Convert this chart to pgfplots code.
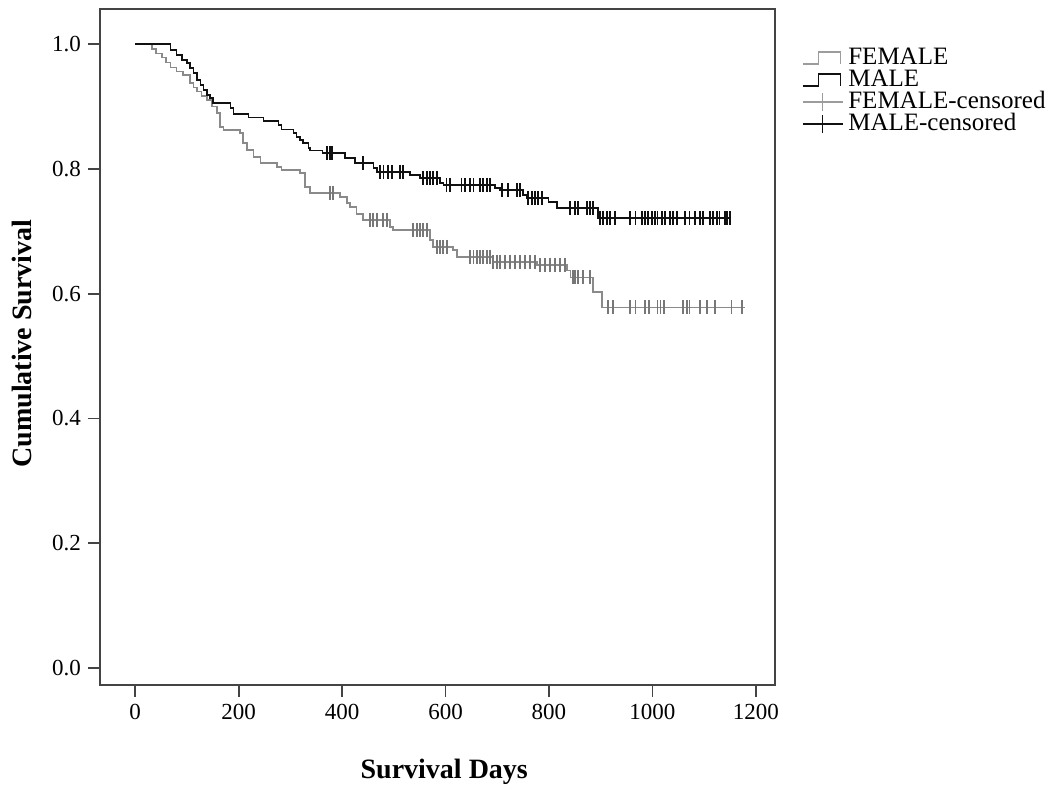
\documentclass[border=0pt]{standalone}
\usepackage{fontspec}
\setmainfont{Liberation Serif}
\usepackage{pgfplots}
\pgfplotsset{compat=1.18}
\definecolor{fem}{HTML}{8A8A8A}
\definecolor{femc}{HTML}{777777}
\definecolor{mal}{HTML}{111111}
\definecolor{frame}{HTML}{444444}
\begin{document}
\begin{tikzpicture}
\begin{axis}[
  at={(0,0)}, anchor=south west,
  scale only axis, width=337.5pt, height=338pt,
  xmin=-68, xmax=1237, ymin=-0.027, ymax=1.056,
  xtick={0,200,...,1200}, ytick={0,0.2,...,1.0},
  tick pos=left, tick align=outside,
  major tick length=6pt,
  every tick/.style={draw=frame, line width=0.9pt},
  axis line style={draw=frame, line width=0.9pt},
  /pgf/number format/assume math mode=true,
  xticklabel style={font=\fontsize{11.5}{12}\selectfont, /pgf/number format/1000 sep={}},
  yticklabel style={font=\fontsize{11.5}{12}\selectfont, /pgf/number format/.cd, fixed, fixed zerofill, precision=1},
  xlabel={Survival Days}, ylabel={Cumulative Survival},
  xlabel style={font=\bfseries\fontsize{14}{14}\selectfont, at={(axis description cs:0.51,-0.1287)}, anchor=center},
  ylabel style={font=\bfseries\fontsize{14}{14}\selectfont, at={(axis description cs:-0.1156,0.505)}, anchor=center},
  legend style={at={(axis description cs:1.039,0.944)}, anchor=north west, draw=none, fill=none,
    font=\fontsize{12.5}{12.5}\selectfont, inner sep=0pt, row sep=0pt, column sep=1.5pt,
    nodes={inner sep=1pt, text height=7.5pt, text depth=1.5pt}},
  legend cell align=left,
  clip=false,
]
% FEMALE
\addplot[const plot, draw=fem, line width=0.8pt,
  legend image code/.code={\draw[draw=fem!85, line width=0.8pt] (0pt,-3pt) -- (8pt,-3pt) -- (8pt,3pt) -- (19pt,3pt) -- (19pt,-3pt);}]
coordinates {
(0,1.000) (32,0.992) (40,0.985) (52,0.978) (60,0.970) (68,0.962) (80,0.956) (92,0.950)
(106,0.937) (113,0.930) (119,0.924) (128,0.917) (139,0.910) (148,0.900) (158,0.889)
(164,0.867) (171,0.862) (203,0.857) (209,0.841) (216,0.830) (229,0.819) (242,0.809)
(274,0.803) (283,0.798) (319,0.793) (328,0.771) (338,0.761) (396,0.755) (409,0.745)
(415,0.739) (428,0.728) (441,0.718) (493,0.707) (499,0.702) (570,0.686) (576,0.675)
(615,0.670) (622,0.659) (692,0.651) (777,0.646) (835,0.637) (842,0.626) (885,0.603)
(902,0.578) (1179,0.578)
};
\addlegendentry{FEMALE}
% MALE
\addplot[const plot, draw=mal, line width=0.8pt,
  legend image code/.code={\draw[draw=mal, line width=0.8pt] (0pt,-3pt) -- (8pt,-3pt) -- (8pt,3pt) -- (19pt,3pt) -- (19pt,-3pt);}]
coordinates {
(0,1.000) (68,0.990) (80,0.982) (90,0.974) (100,0.969) (106,0.961) (113,0.953) (119,0.942)
(126,0.934) (132,0.926) (139,0.918) (145,0.913) (151,0.905) (184,0.897) (190,0.888)
(219,0.882) (248,0.877) (277,0.870) (283,0.863) (306,0.857) (312,0.851) (319,0.846)
(325,0.841) (335,0.833) (338,0.829) (362,0.825) (406,0.817) (425,0.809) (461,0.801)
(467,0.795) (531,0.790) (551,0.785) (589,0.777) (596,0.774) (696,0.769) (705,0.766)
(750,0.758) (757,0.753) (799,0.747) (815,0.737) (895,0.721) (1150,0.721)
};
\addlegendentry{MALE}
% FEMALE censored
\addplot[only marks, mark=|, mark size=3.5pt, draw=femc, mark options={line width=0.8pt},
  legend image code/.code={\draw[draw=fem!85, line width=0.8pt] (0pt,0pt) -- (20pt,0pt); \draw[draw=fem!85, line width=0.8pt] (10pt,-4.5pt) -- (10pt,4.5pt);}]
coordinates {
(377,0.761) (383,0.761)
(454,0.718) (460,0.718) (467,0.718) (479,0.718) (487,0.718)
(537,0.702) (545,0.702) (551,0.702) (557,0.702) (564,0.702)
(583,0.675) (589,0.675) (595,0.675) (603,0.675)
(647,0.659) (654,0.659) (661,0.659) (667,0.659) (673,0.659) (680,0.659) (686,0.659)
(692,0.651) (699,0.651) (705,0.651) (715,0.651) (725,0.651) (734,0.651) (744,0.651) (754,0.651) (763,0.651) (773,0.651)
(783,0.646) (792,0.646) (802,0.646) (812,0.646) (821,0.646) (831,0.646)
(846,0.626) (850,0.626) (856,0.626) (866,0.626) (879,0.626)
(914,0.578) (924,0.578) (957,0.578) (967,0.578) (986,0.578) (993,0.578) (1010,0.578) (1016,0.578)
(1022,0.578) (1059,0.578) (1067,0.578) (1072,0.578) (1092,0.578) (1105,0.578) (1121,0.578) (1153,0.578) (1173,0.578)
};
\addlegendentry{FEMALE-censored}
% MALE censored
\addplot[only marks, mark=|, mark size=3.5pt, draw=mal, mark options={line width=0.8pt},
  legend image code/.code={\draw[draw=mal, line width=0.8pt] (0pt,0pt) -- (20pt,0pt); \draw[draw=mal, line width=0.8pt] (10pt,-4.5pt) -- (10pt,4.5pt);}]
coordinates {
(371,0.825) (377,0.825) (381,0.825)
(441,0.809)
(473,0.795) (480,0.795) (489,0.795) (496,0.795) (512,0.795) (518,0.795)
(557,0.785) (564,0.785) (570,0.785) (576,0.785) (583,0.785)
(602,0.774) (609,0.774) (631,0.774) (638,0.774) (647,0.774) (654,0.774) (667,0.774) (673,0.774) (680,0.774) (686,0.774)
(709,0.766) (721,0.766) (738,0.766) (744,0.766)
(760,0.753) (767,0.753) (773,0.753) (779,0.753) (786,0.753)
(841,0.737) (850,0.737) (856,0.737) (873,0.737) (879,0.737) (885,0.737)
(899,0.721) (904,0.721) (912,0.721) (918,0.721) (928,0.721) (957,0.721) (967,0.721) (980,0.721) (986,0.721) (991,0.721)
(999,0.721) (1005,0.721) (1010,0.721) (1018,0.721) (1024,0.721) (1034,0.721) (1040,0.721) (1047,0.721) (1063,0.721)
(1072,0.721) (1082,0.721) (1092,0.721) (1098,0.721) (1111,0.721) (1117,0.721) (1125,0.721) (1130,0.721) (1140,0.721) (1144,0.721) (1150,0.721)
};
\addlegendentry{MALE-censored}
\end{axis}
\pgfresetboundingbox
\path[use as bounding box] (-50pt,-55.5pt) rectangle (477.5pt,342.5pt);
\end{tikzpicture}
\end{document}
